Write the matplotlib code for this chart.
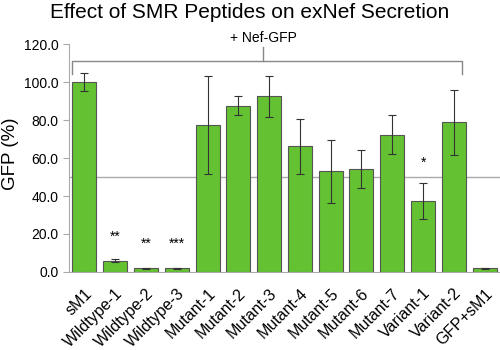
import matplotlib
matplotlib.use("Agg")
import matplotlib.pyplot as plt
import numpy as np

plt.rcParams['font.family'] = ['Liberation Sans', 'DejaVu Sans']

categories = ["sM1", "Wildtype-1", "Wildtype-2", "Wildtype-3", "Mutant-1", "Mutant-2",
              "Mutant-3", "Mutant-4", "Mutant-5", "Mutant-6", "Mutant-7", "Variant-1",
              "Variant-2", "GFP+sM1"]
values = [100.0, 6.0, 2.0, 2.0, 77.4, 87.5, 92.6, 66.1, 53.0, 54.2, 72.3, 37.4, 78.8, 2.0]
errors = [4.6, 1.0, 0.3, 0.3, 25.6, 5.0, 10.8, 14.7, 16.5, 9.8, 10.3, 9.5, 17.0, 0.3]
stars = {1: ("**", 18.6), 2: ("**", 14.7), 3: ("***", 14.7), 11: ("*", 57.4)}
yticks = [0, 20, 40, 60, 80, 100, 120]
ref_line = 50

fig = plt.figure(figsize=(5, 3.5), dpi=100)
ax = fig.add_axes([0.138, 0.223, 0.862, 0.651])
x = np.arange(len(categories))
ax.bar(x, values, width=0.78, color='#63c132', edgecolor='#555555', linewidth=0.8, zorder=2)
ax.errorbar(x, values, yerr=errors, fmt='none', ecolor='#333333', elinewidth=0.8,
            capsize=3, capthick=0.8, zorder=3)
ax.axhline(ref_line, color='#aaaaaa', linewidth=1.0, zorder=1)

for i, (s, yv) in stars.items():
    ax.text(i, yv, s, ha='center', va='center', fontsize=10)

# bracket
gray = '#888888'
ax.plot([-0.39, -0.39, 12.27, 12.27], [104.5, 111, 111, 104.5], color=gray, lw=1.0,
        clip_on=False, zorder=1)
ax.plot([5.8, 5.8], [111, 118.5], color=gray, lw=1.0, clip_on=False)
ax.text(5.8, 123, "+ Nef-GFP", ha='center', va='center', fontsize=10)

ax.set_xlim(-0.5, 13.5)
ax.set_ylim(0, 120)
ax.set_yticks(yticks)
ax.set_yticklabels([f"{v:.1f}" for v in yticks], fontsize=10)
ax.set_xticks(x)
ax.set_xticklabels(categories, rotation=45, ha='right', rotation_mode='anchor', fontsize=11.5)
ax.tick_params(axis='x', length=0, pad=10)
ax.tick_params(axis='y', length=4, color='#aaaaaa', direction='out')
for sp in ['top', 'right']:
    ax.spines[sp].set_visible(False)
ax.spines['left'].set_color('#aaaaaa')
ax.spines['bottom'].set_color('#aaaaaa')
fig.text(0.021, 0.561, "GFP (%)", rotation=90, ha='center', va='center', fontsize=13.5)
fig.text(0.5, 0.965, "Effect of SMR Peptides on exNef Secretion", ha='center', va='center',
         fontsize=15)
fig.savefig("out.png", dpi=100)
